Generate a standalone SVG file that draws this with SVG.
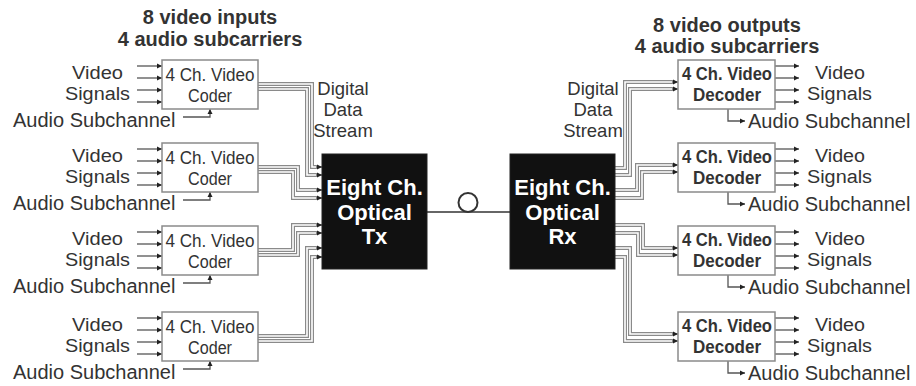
<svg xmlns="http://www.w3.org/2000/svg" width="916" height="386" viewBox="0 0 916 386">
<style>
text{font-family:"Liberation Sans",Arial,sans-serif;fill:#333}
.lbl{font-size:20px}
.vs{font-size:18px}
.ttl{font-size:20px;font-weight:bold;text-anchor:middle}
.dds{font-size:18.5px;text-anchor:middle}
.cod{font-family:"Liberation Sans Narrow","Liberation Sans",sans-serif;font-size:18px;text-anchor:middle}
.dec{font-family:"Liberation Sans Narrow","Liberation Sans",sans-serif;font-size:19px;font-weight:bold;text-anchor:middle}
.opt{font-size:22px;font-weight:bold;text-anchor:middle;fill:#fff}
.box{fill:#fff;stroke:#8a8a8a;stroke-width:1.5}
.blk{fill:#111;stroke:#222;stroke-width:1}
.case{fill:none;stroke:#8a8a8a;stroke-width:4}
.core{fill:none;stroke:#fff;stroke-width:1.6}
.sig{fill:none;stroke:#555;stroke-width:1.3}
</style>
<defs>
<marker id="ah" markerUnits="userSpaceOnUse" markerWidth="6" markerHeight="6" refX="5" refY="3" orient="auto">
<path d="M0,0.5 L5,3 L0,5.5 Z" fill="#222"/>
</marker>
</defs>

<g id="title-inputs">
<text class="ttl" x="210" y="24">8 video inputs</text>
<text class="ttl" x="210" y="46">4 audio subcarriers</text>
</g>
<g id="title-outputs">
<text class="ttl" x="727" y="32">8 video outputs</text>
<text class="ttl" x="727" y="53">4 audio subcarriers</text>
</g>

<g id="connectors">
<path class="case" d="M258,84 H312 V167 H318"/>
<path class="case" d="M258,89 H307 V175 H318"/>
<path class="case" d="M258,167 H298 V190 H318"/>
<path class="case" d="M258,172 H293 V198 H318"/>
<path class="case" d="M258,250 H293 V225 H318"/>
<path class="case" d="M258,255 H298 V233 H318"/>
<path class="case" d="M258,336 H307 V248 H318"/>
<path class="case" d="M258,341 H312 V257 H318"/>
<path class="core" d="M258,84 H312 V167 H318"/>
<path class="core" d="M258,89 H307 V175 H318"/>
<path class="core" d="M258,167 H298 V190 H318"/>
<path class="core" d="M258,172 H293 V198 H318"/>
<path class="core" d="M258,250 H293 V225 H318"/>
<path class="core" d="M258,255 H298 V233 H318"/>
<path class="core" d="M258,336 H307 V248 H318"/>
<path class="core" d="M258,341 H312 V257 H318"/>
<g class="sig">
<path d="M316,167 H322" marker-end="url(#ah)"/>
<path d="M316,175 H322" marker-end="url(#ah)"/>
<path d="M316,190 H322" marker-end="url(#ah)"/>
<path d="M316,198 H322" marker-end="url(#ah)"/>
<path d="M316,225 H322" marker-end="url(#ah)"/>
<path d="M316,233 H322" marker-end="url(#ah)"/>
<path d="M316,248 H322" marker-end="url(#ah)"/>
<path d="M316,257 H322" marker-end="url(#ah)"/>
</g>
<path class="case" d="M615,168 H625 V82 H674"/>
<path class="case" d="M615,175 H630 V89 H674"/>
<path class="case" d="M615,190 H637 V165 H674"/>
<path class="case" d="M615,198 H642 V172 H674"/>
<path class="case" d="M615,225 H643 V248 H674"/>
<path class="case" d="M615,233 H638 V255 H674"/>
<path class="case" d="M615,248 H630 V334 H674"/>
<path class="case" d="M615,257 H625 V341 H674"/>
<path class="core" d="M615,168 H625 V82 H674"/>
<path class="core" d="M615,175 H630 V89 H674"/>
<path class="core" d="M615,190 H637 V165 H674"/>
<path class="core" d="M615,198 H642 V172 H674"/>
<path class="core" d="M615,225 H643 V248 H674"/>
<path class="core" d="M615,233 H638 V255 H674"/>
<path class="core" d="M615,248 H630 V334 H674"/>
<path class="core" d="M615,257 H625 V341 H674"/>
<g class="sig">
<path d="M672,82 H678" marker-end="url(#ah)"/>
<path d="M672,89 H678" marker-end="url(#ah)"/>
<path d="M672,165 H678" marker-end="url(#ah)"/>
<path d="M672,172 H678" marker-end="url(#ah)"/>
<path d="M672,248 H678" marker-end="url(#ah)"/>
<path d="M672,255 H678" marker-end="url(#ah)"/>
<path d="M672,334 H678" marker-end="url(#ah)"/>
<path d="M672,341 H678" marker-end="url(#ah)"/>
</g>
<g class="sig">
<path d="M137,66 H162" marker-end="url(#ah)"/><path d="M137,78 H162" marker-end="url(#ah)"/><path d="M137,90 H162" marker-end="url(#ah)"/><path d="M137,102 H162" marker-end="url(#ah)"/>
<path d="M183,117 H210 V109" marker-end="url(#ah)"/>
<path d="M137,149 H162" marker-end="url(#ah)"/><path d="M137,161 H162" marker-end="url(#ah)"/><path d="M137,173 H162" marker-end="url(#ah)"/><path d="M137,185 H162" marker-end="url(#ah)"/>
<path d="M183,200 H210 V192" marker-end="url(#ah)"/>
<path d="M137,232 H162" marker-end="url(#ah)"/><path d="M137,244 H162" marker-end="url(#ah)"/><path d="M137,256 H162" marker-end="url(#ah)"/><path d="M137,268 H162" marker-end="url(#ah)"/>
<path d="M183,283 H210 V275" marker-end="url(#ah)"/>
<path d="M137,318 H162" marker-end="url(#ah)"/><path d="M137,330 H162" marker-end="url(#ah)"/><path d="M137,342 H162" marker-end="url(#ah)"/><path d="M137,354 H162" marker-end="url(#ah)"/>
<path d="M183,369 H210 V361" marker-end="url(#ah)"/>
<path d="M775,66 H799" marker-end="url(#ah)"/><path d="M775,78 H799" marker-end="url(#ah)"/><path d="M775,90 H799" marker-end="url(#ah)"/><path d="M775,102 H799" marker-end="url(#ah)"/>
<path d="M728,109 V121 H745" marker-end="url(#ah)"/>
<path d="M775,149 H799" marker-end="url(#ah)"/><path d="M775,161 H799" marker-end="url(#ah)"/><path d="M775,173 H799" marker-end="url(#ah)"/><path d="M775,185 H799" marker-end="url(#ah)"/>
<path d="M728,192 V204 H745" marker-end="url(#ah)"/>
<path d="M775,232 H799" marker-end="url(#ah)"/><path d="M775,244 H799" marker-end="url(#ah)"/><path d="M775,256 H799" marker-end="url(#ah)"/><path d="M775,268 H799" marker-end="url(#ah)"/>
<path d="M728,275 V287 H745" marker-end="url(#ah)"/>
<path d="M775,318 H799" marker-end="url(#ah)"/><path d="M775,330 H799" marker-end="url(#ah)"/><path d="M775,342 H799" marker-end="url(#ah)"/><path d="M775,354 H799" marker-end="url(#ah)"/>
<path d="M728,361 V373 H745" marker-end="url(#ah)"/>
</g>
<path d="M427,212 H510" fill="none" stroke="#333" stroke-width="1.5"/>
<circle cx="468" cy="202.5" r="9.5" fill="#fff" stroke="#333" stroke-width="2"/>
</g>

<g id="coder1">
<rect class="box" x="162" y="60" width="96" height="49"/>
<text class="cod" x="210" y="81" textLength="89" lengthAdjust="spacingAndGlyphs">4 Ch. Video</text>
<text class="cod" x="210" y="102" textLength="44" lengthAdjust="spacingAndGlyphs">Coder</text>
<text class="vs" x="123" y="79" text-anchor="end" textLength="51" lengthAdjust="spacingAndGlyphs">Video</text>
<text class="vs" x="130" y="100" text-anchor="end" textLength="65" lengthAdjust="spacingAndGlyphs">Signals</text>
<text class="lbl" x="13" y="127">Audio Subchannel</text>
</g>
<g id="coder2">
<rect class="box" x="162" y="143" width="96" height="49"/>
<text class="cod" x="210" y="164" textLength="89" lengthAdjust="spacingAndGlyphs">4 Ch. Video</text>
<text class="cod" x="210" y="185" textLength="44" lengthAdjust="spacingAndGlyphs">Coder</text>
<text class="vs" x="123" y="162" text-anchor="end" textLength="51" lengthAdjust="spacingAndGlyphs">Video</text>
<text class="vs" x="130" y="183" text-anchor="end" textLength="65" lengthAdjust="spacingAndGlyphs">Signals</text>
<text class="lbl" x="13" y="210">Audio Subchannel</text>
</g>
<g id="coder3">
<rect class="box" x="162" y="226" width="96" height="49"/>
<text class="cod" x="210" y="247" textLength="89" lengthAdjust="spacingAndGlyphs">4 Ch. Video</text>
<text class="cod" x="210" y="268" textLength="44" lengthAdjust="spacingAndGlyphs">Coder</text>
<text class="vs" x="123" y="245" text-anchor="end" textLength="51" lengthAdjust="spacingAndGlyphs">Video</text>
<text class="vs" x="130" y="266" text-anchor="end" textLength="65" lengthAdjust="spacingAndGlyphs">Signals</text>
<text class="lbl" x="13" y="293">Audio Subchannel</text>
</g>
<g id="coder4">
<rect class="box" x="162" y="312" width="96" height="49"/>
<text class="cod" x="210" y="333" textLength="89" lengthAdjust="spacingAndGlyphs">4 Ch. Video</text>
<text class="cod" x="210" y="354" textLength="44" lengthAdjust="spacingAndGlyphs">Coder</text>
<text class="vs" x="123" y="331" text-anchor="end" textLength="51" lengthAdjust="spacingAndGlyphs">Video</text>
<text class="vs" x="130" y="352" text-anchor="end" textLength="65" lengthAdjust="spacingAndGlyphs">Signals</text>
<text class="lbl" x="13" y="379">Audio Subchannel</text>
</g>

<g id="label-dds-left">
<text class="dds" x="343" y="95">Digital</text>
<text class="dds" x="343" y="116">Data</text>
<text class="dds" x="343" y="137">Stream</text>
</g>
<g id="label-dds-right">
<text class="dds" x="593" y="95">Digital</text>
<text class="dds" x="593" y="116">Data</text>
<text class="dds" x="593" y="137">Stream</text>
</g>

<g id="tx">
<rect class="blk" x="322" y="154" width="105" height="115"/>
<text class="opt" x="374.5" y="195">Eight Ch.</text>
<text class="opt" x="374.5" y="220">Optical</text>
<text class="opt" x="374.5" y="244">Tx</text>
</g>
<g id="rx">
<rect class="blk" x="510" y="154" width="105" height="115"/>
<text class="opt" x="562.5" y="195">Eight Ch.</text>
<text class="opt" x="562.5" y="220">Optical</text>
<text class="opt" x="562.5" y="244">Rx</text>
</g>

<g id="decoder1">
<rect class="box" x="678" y="60" width="97" height="49"/>
<text class="dec" x="727" y="80" textLength="90" lengthAdjust="spacingAndGlyphs">4 Ch. Video</text>
<text class="dec" x="727" y="101" textLength="68" lengthAdjust="spacingAndGlyphs">Decoder</text>
<text class="vs" x="815" y="79" textLength="50" lengthAdjust="spacingAndGlyphs">Video</text>
<text class="vs" x="807" y="100" textLength="65" lengthAdjust="spacingAndGlyphs">Signals</text>
<text class="lbl" x="748" y="128">Audio Subchannel</text>
</g>
<g id="decoder2">
<rect class="box" x="678" y="143" width="97" height="49"/>
<text class="dec" x="727" y="163" textLength="90" lengthAdjust="spacingAndGlyphs">4 Ch. Video</text>
<text class="dec" x="727" y="184" textLength="68" lengthAdjust="spacingAndGlyphs">Decoder</text>
<text class="vs" x="815" y="162" textLength="50" lengthAdjust="spacingAndGlyphs">Video</text>
<text class="vs" x="807" y="183" textLength="65" lengthAdjust="spacingAndGlyphs">Signals</text>
<text class="lbl" x="748" y="211">Audio Subchannel</text>
</g>
<g id="decoder3">
<rect class="box" x="678" y="226" width="97" height="49"/>
<text class="dec" x="727" y="246" textLength="90" lengthAdjust="spacingAndGlyphs">4 Ch. Video</text>
<text class="dec" x="727" y="267" textLength="68" lengthAdjust="spacingAndGlyphs">Decoder</text>
<text class="vs" x="815" y="245" textLength="50" lengthAdjust="spacingAndGlyphs">Video</text>
<text class="vs" x="807" y="266" textLength="65" lengthAdjust="spacingAndGlyphs">Signals</text>
<text class="lbl" x="748" y="294">Audio Subchannel</text>
</g>
<g id="decoder4">
<rect class="box" x="678" y="312" width="97" height="49"/>
<text class="dec" x="727" y="332" textLength="90" lengthAdjust="spacingAndGlyphs">4 Ch. Video</text>
<text class="dec" x="727" y="353" textLength="68" lengthAdjust="spacingAndGlyphs">Decoder</text>
<text class="vs" x="815" y="331" textLength="50" lengthAdjust="spacingAndGlyphs">Video</text>
<text class="vs" x="807" y="352" textLength="65" lengthAdjust="spacingAndGlyphs">Signals</text>
<text class="lbl" x="748" y="380">Audio Subchannel</text>
</g>
</svg>
